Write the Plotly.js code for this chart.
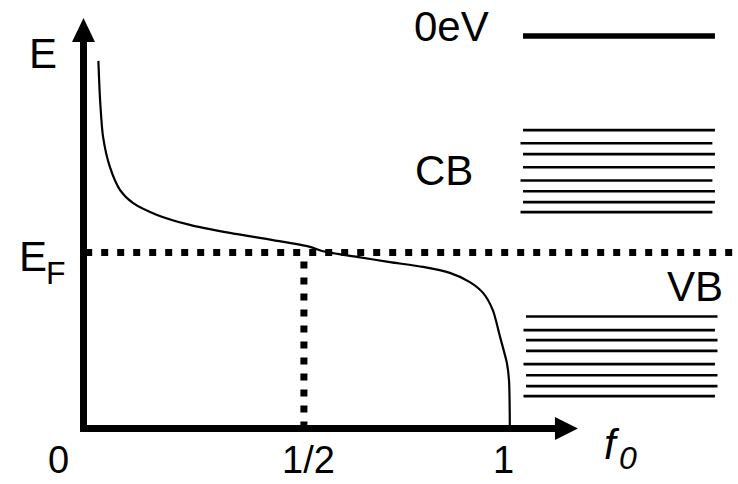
<!DOCTYPE html>
<html>
<head>
<meta charset="utf-8">
<script src="https://cdn.plot.ly/plotly-3.0.1.min.js"></script>
<style>
  html, body { margin: 0; padding: 0; background: #ffffff; }
  #chart { width: 738px; height: 484px; }
</style>
</head>
<body>
<div id="chart"></div>
<script>
// ---- Data (x = f0, E in arbitrary energy units, x-axis at E = 0) ----
const fermiX = [0.035, 0.039, 0.046, 0.062, 0.086, 0.116, 0.173, 0.250, 0.344, 0.445, 0.532, 0.563, 0.643, 0.720, 0.798, 0.861, 0.908, 0.939, 0.962, 0.979, 0.995, 1.000, 1.002];
const fermiE = [9.19, 8.21, 7.29, 6.54, 5.96, 5.64, 5.34, 5.09, 4.89, 4.71, 4.54, 4.43, 4.29, 4.16, 4.04, 3.89, 3.66, 3.39, 2.96, 2.29, 1.64, 1.21, 0.0];

const fermiLevel = 4.4;          // E_F
const halfOccupation = 0.518;    // f0 = 1/2 marker
const efLineStart = 0.004;
const efLineEnd = 1.54;

const vacuumLevelE = 9.81;       // 0eV
const vacuumX0 = 1.033, vacuumX1 = 1.484;

const cbE  = [7.46, 7.13, 6.86, 6.53, 6.20, 5.93, 5.66, 5.41];
const cbX0 = [1.033, 1.027, 1.033, 1.033, 1.027, 1.033, 1.033, 1.027];
const cbX1 = [1.484, 1.478, 1.484, 1.484, 1.478, 1.484, 1.484, 1.478];

const vbE  = [2.80, 2.46, 2.21, 1.94, 1.61, 1.33, 1.06, 0.81];
const vbX0 = [1.040, 1.034, 1.040, 1.040, 1.034, 1.040, 1.040, 1.034];
const vbX1 = [1.490, 1.484, 1.490, 1.490, 1.484, 1.490, 1.490, 1.484];

const tickLabels = ['0', '1/2', '1'];
const tickLabelX = [-0.058, 0.528, 0.986];

// ---- helpers ----
function segments(x0s, x1s, ys) {
  const xs = [], yy = [];
  for (let i = 0; i < ys.length; i++) {
    xs.push(x0s[i], x1s[i], null);
    yy.push(ys[i], ys[i], null);
  }
  return { x: xs, y: yy };
}

const FONT = 'Liberation Sans, Arial, sans-serif';
const cb = segments(cbX0, cbX1, cbE);
const vb = segments(vbX0, vbX1, vbE);

const traces = [
  { x: fermiX, y: fermiE, mode: 'lines', line: { color: '#000', width: 2.2, shape: 'spline', smoothing: 0.7 }, hoverinfo: 'skip' },
  { x: [efLineStart, efLineEnd], y: [fermiLevel, fermiLevel], mode: 'lines', line: { color: '#000', width: 7, dash: '7px,9px' }, hoverinfo: 'skip' },
  { x: [halfOccupation, halfOccupation], y: [0, fermiLevel], mode: 'lines', line: { color: '#000', width: 7, dash: '7px,9px' }, hoverinfo: 'skip' },
  { x: [vacuumX0, vacuumX1], y: [vacuumLevelE, vacuumLevelE], mode: 'lines', line: { color: '#000', width: 5.5 }, hoverinfo: 'skip' },
  { x: cb.x, y: cb.y, mode: 'lines', connectgaps: false, line: { color: '#000', width: 2.6 }, hoverinfo: 'skip' },
  { x: vb.x, y: vb.y, mode: 'lines', connectgaps: false, line: { color: '#000', width: 2.6 }, hoverinfo: 'skip' }
];

// axis geometry (data units)
const xAxisStart = -0.008, xAxisEnd = 1.112, xArrowTip = 1.162, xArrowBase = 1.108, xArrowHalf = 0.2875;
const yAxisStart = -0.0875, yAxisEnd = 9.70, yArrowTip = 10.26, yArrowBase = 9.66, yArrowHalf = 0.027;

const shapes = [
  { type: 'line', xref: 'x', yref: 'y', x0: xAxisStart, x1: xAxisEnd, y0: 0, y1: 0, line: { color: '#000', width: 7 } },
  { type: 'line', xref: 'x', yref: 'y', x0: 0, x1: 0, y0: yAxisStart, y1: yAxisEnd, line: { color: '#000', width: 7 } },
  { type: 'path', xref: 'x', yref: 'y',
    path: `M ${xArrowBase},${xArrowHalf} L ${xArrowTip},0 L ${xArrowBase},${-xArrowHalf} Z`,
    fillcolor: '#000', line: { color: '#000', width: 0 } },
  { type: 'path', xref: 'x', yref: 'y',
    path: `M ${-yArrowHalf},${yArrowBase} L 0,${yArrowTip} L ${yArrowHalf},${yArrowBase} Z`,
    fillcolor: '#000', line: { color: '#000', width: 0 } }
];

function label(text, x, y, size, extra) {
  return Object.assign({ text: text, x: x, y: y, xref: 'x', yref: 'y', showarrow: false,
    xanchor: 'center', yanchor: 'middle', font: { family: FONT, size: size, color: '#000' } }, extra || {});
}

const annotations = [
  label('E', -0.095, 9.38, 42),
  label('E', -0.118, 4.30, 42),
  label('F', -0.064, 3.89, 32),
  label('0eV', 0.865, 10.04, 42),
  label('CB', 0.847, 6.44, 42),
  label('VB', 1.437, 3.56, 42),
  label('<i>f</i>', 1.241, -0.41, 42),
  label('<i>0</i>', 1.280, -0.74, 32)
];
// tick labels: box bottom sits just inside the bottom edge of the figure
for (let i = 0; i < tickLabels.length; i++) {
  annotations.push(label(tickLabels[i], tickLabelX[i], 0.004, 38, { yref: 'paper', yanchor: 'bottom', borderpad: 0 }));
}

const layout = {
  width: 738, height: 484,
  margin: { l: 0, r: 0, t: 0, b: 0, pad: 0 },
  paper_bgcolor: '#fff', plot_bgcolor: '#fff',
  showlegend: false,
  xaxis: { range: [-0.19624, 1.53819], visible: false, fixedrange: true },
  yaxis: { range: [-1.3875, 10.7125], visible: false, fixedrange: true },
  shapes: shapes,
  annotations: annotations
};

Plotly.newPlot('chart', traces, layout, { staticPlot: true, displayModeBar: false });
</script>
</body>
</html>
